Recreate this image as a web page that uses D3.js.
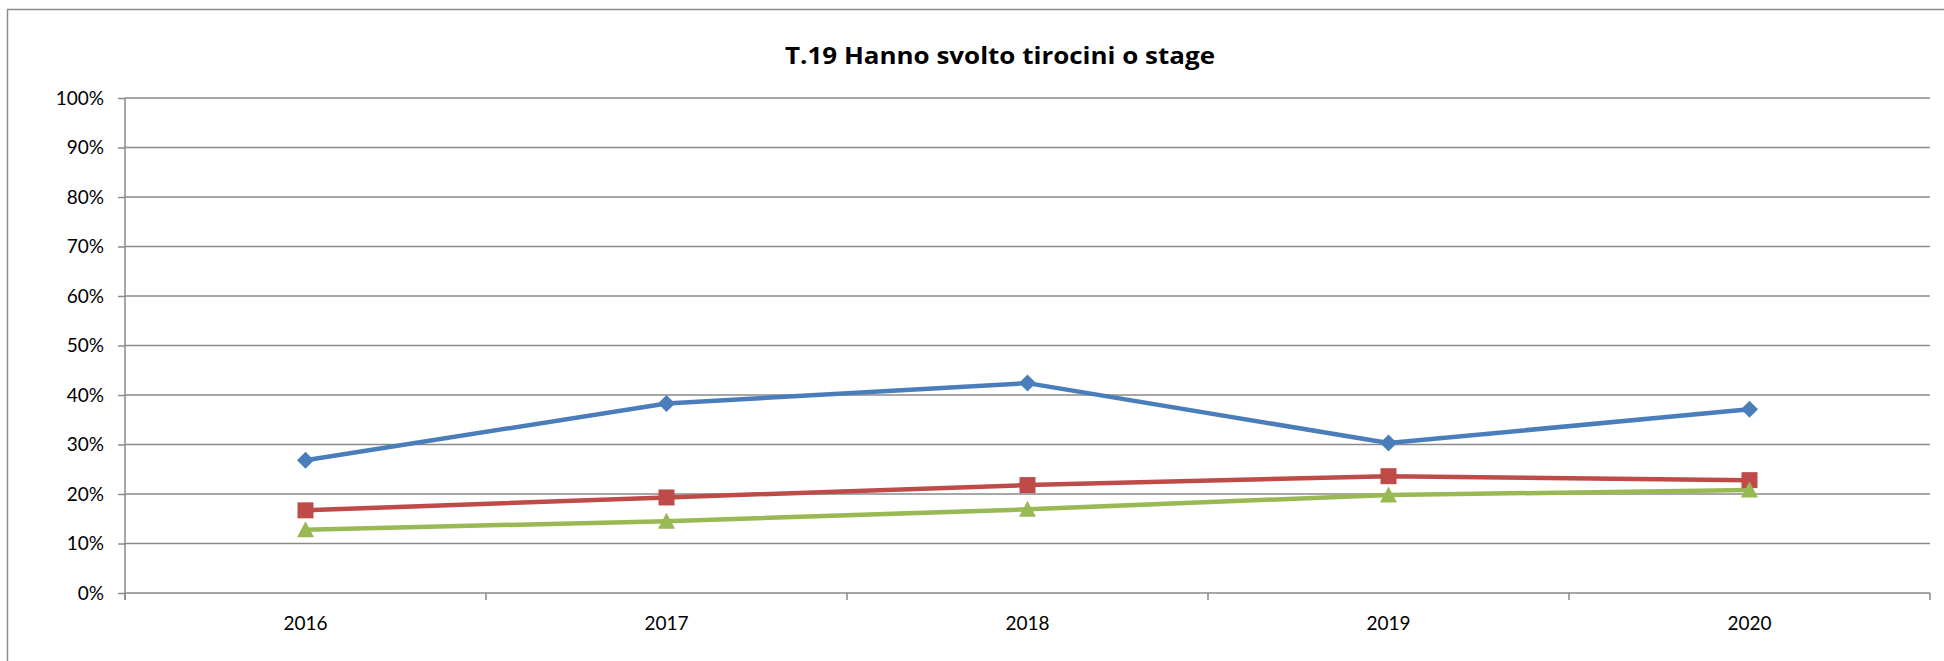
<!DOCTYPE html>
<html><head><meta charset="utf-8">
<script src="https://cdn.jsdelivr.net/npm/d3@7"></script>
<style>html,body{margin:0;padding:0;background:#fff;}svg{display:block;}</style>
</head><body>
<svg id="c" width="1944" height="661"></svg>
<script>
const title = "T.19 Hanno svolto tirocini o stage";
const categories = ["2016","2017","2018","2019","2020"];
const yTicks = [0,0.1,0.2,0.3,0.4,0.5,0.6,0.7,0.8,0.9,1.0];
const seriesBlue = [0.268,0.383,0.424,0.303,0.371];
const seriesRed = [0.167,0.193,0.218,0.236,0.228];
const seriesGreen = [0.128,0.145,0.169,0.198,0.208];

const svg = d3.select("#c");
const W = 1944, H = 661;
const m = {left:125, right:1930, top:98, bottom:593};

// outer border
svg.append("path").attr("d",`M7.5,${H+2} L7.5,9.5 L${W+2},9.5`)
  .attr("fill","none").attr("stroke","#8c8c8c").attr("stroke-width",1.5);

svg.append("text").attr("x",1000).attr("y",64).attr("text-anchor","middle")
  .attr("font-family","Open Sans").attr("font-weight","bold").attr("font-size",23)
  .attr("textLength",430).attr("lengthAdjust","spacingAndGlyphs")
  .attr("fill","#000").text(title);

const x = d3.scaleBand().domain(categories).range([m.left,m.right]);
const y = d3.scaleLinear().domain([0,1]).range([m.bottom,m.top]);

// gridlines
svg.append("g").selectAll("line").data(yTicks.filter(d=>d>0)).join("line")
  .attr("x1",m.left).attr("x2",m.right).attr("y1",d=>y(d)).attr("y2",d=>y(d))
  .attr("stroke","#8a8a8a").attr("stroke-width",1.5);

// y axis
const yAxis = d3.axisLeft(y).tickValues(yTicks).tickFormat(d3.format(".0%")).tickSize(7).tickPadding(14);
const gy = svg.append("g").attr("transform",`translate(${m.left},0)`).call(yAxis);
gy.select(".domain").attr("stroke","#8a8a8a").attr("stroke-width",1.5).attr("d",`M0,${m.top}V${m.bottom+7}`);
gy.selectAll(".tick line").attr("stroke","#8a8a8a").attr("stroke-width",1.5);
gy.selectAll("text").attr("font-family","Lato").attr("font-size",19).attr("fill","#000");

// x axis
const gx = svg.append("g").attr("transform",`translate(0,${m.bottom})`);
gx.append("line").attr("x1",m.left).attr("x2",m.right).attr("y1",0).attr("y2",0)
  .attr("stroke","#8a8a8a").attr("stroke-width",1.5);
const bounds = categories.map(c=>x(c)).concat([m.right]);
gx.selectAll("line.tk").data(bounds).join("line").attr("class","tk")
  .attr("x1",d=>d).attr("x2",d=>d).attr("y1",0).attr("y2",7)
  .attr("stroke","#8a8a8a").attr("stroke-width",1.5);
gx.selectAll("text").data(categories).join("text")
  .attr("x",d=>x(d)+x.bandwidth()/2).attr("y",37).attr("text-anchor","middle")
  .attr("font-family","Lato").attr("font-size",19).attr("fill","#000").text(d=>d);

const cx = c => x(c)+x.bandwidth()/2;
const line = d3.line().x((d,i)=>cx(categories[i])).y(d=>y(d));

const diamond = "M0,-8.5L8.5,0L0,8.5L-8.5,0Z";
const square = "M-8,-8H8V8H-8Z";
const triangle = "M0,-8.5L8.5,7.5L-8.5,7.5Z";
const series = [
  {vals:seriesBlue, color:"#4A7EBB", shape:diamond},
  {vals:seriesRed, color:"#BE4B48", shape:square},
  {vals:seriesGreen, color:"#98B954", shape:triangle}
];
series.forEach(s=>{
  svg.append("path").datum(s.vals).attr("d",line).attr("fill","none")
    .attr("stroke",s.color).attr("stroke-width",4.5).attr("stroke-linejoin","round");
});
series.forEach(s=>{
  svg.append("g").selectAll("path").data(s.vals).join("path")
    .attr("transform",(d,i)=>`translate(${cx(categories[i])},${y(d)})`)
    .attr("d",s.shape).attr("fill",s.color);
});
</script>
</body></html>
